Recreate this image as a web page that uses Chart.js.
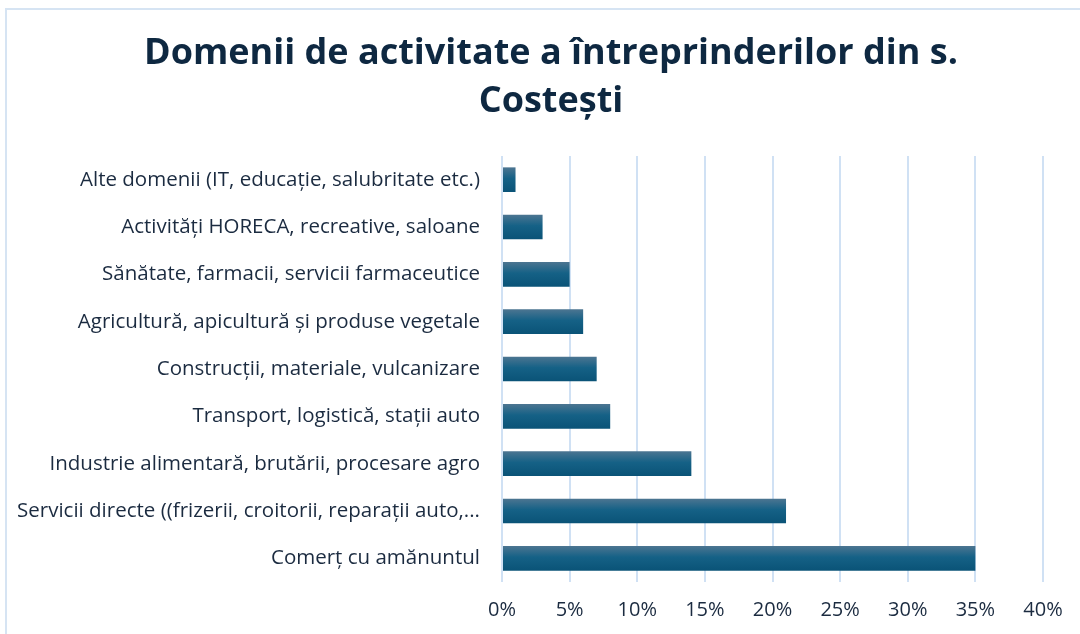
<!DOCTYPE html>
<html>
<head>
<meta charset="utf-8">
<script src="https://cdn.jsdelivr.net/npm/chart.js@4.4.0/dist/chart.umd.min.js"></script>
<style>
  html, body { margin: 0; padding: 0; background: #fff; overflow: hidden; }
  #wrap { position: relative; width: 1080px; height: 634px; }
  #frame { position: absolute; left: 5px; top: 8px; width: 1100px; height: 700px;
           border: 2px solid #d6e4f3; box-sizing: border-box; }
  canvas { position: absolute; left: 0; top: 0; }
</style>
</head>
<body>
<div id="wrap">
  <div id="frame"></div>
  <canvas id="barChart" width="1080" height="634"></canvas>
</div>
<script>
// Categories (top to bottom as shown)
const categories = [
    'Alte domenii (IT, educație, salubritate etc.)',
    'Activități HORECA, recreative, saloane',
    'Sănătate, farmacii, servicii farmaceutice',
    'Agricultură, apicultură și produse vegetale',
    'Construcții, materiale, vulcanizare',
    'Transport, logistică, stații auto',
    'Industrie alimentară, brutării, procesare agro',
    'Servicii directe ((frizerii, croitorii, reparații auto,...',
    'Comerț cu amănuntul'
];

// Share of enterprises, percent
const shares = [1, 3, 5, 6, 7, 8, 14, 21, 35];

// Axis ticks
const tickMax = 40;
const tickStep = 5;

const titleLines = ['Domenii de activitate a întreprinderilor din s.', 'Costești'];

const textColor = '#1b2b40';
const barRatio = 0.52;

// Vertical gradient for each bar
function barGradient(context) {
    const chart = context.chart;
    const yScale = chart.scales.y;
    if (!yScale || context.dataIndex === undefined) return '#0f5a7c';
    const center = yScale.getPixelForValue(context.dataIndex);
    const thick = (yScale.height / categories.length) * barRatio;
    if (!isFinite(center) || !isFinite(thick) || thick <= 0) return '#0f5a7c';
    const g = chart.ctx.createLinearGradient(0, center - thick / 2, 0, center + thick / 2);
    g.addColorStop(0, '#4c7591');
    g.addColorStop(0.45, '#156186');
    g.addColorStop(1, '#0a5377');
    return g;
}

// Shift the title box so it is centred like in the original
const titleShift = {
    id: 'titleShift',
    afterLayout: function(chart) {
        if (chart.titleBlock) chart.titleBlock.left = 59;
    }
};

document.addEventListener('DOMContentLoaded', function() {
    const ctx = document.getElementById('barChart').getContext('2d');

    new Chart(ctx, {
        type: 'bar',
        data: {
            labels: categories,
            datasets: [{
                data: shares,
                backgroundColor: barGradient,
                borderWidth: 0,
                categoryPercentage: 1,
                barPercentage: barRatio
            }]
        },
        options: {
            indexAxis: 'y',
            responsive: false,
            animation: false,
            layout: {
                padding: { left: 0, right: 37, top: 30, bottom: 4 }
            },
            plugins: {
                legend: { display: false },
                tooltip: { enabled: false },
                title: {
                    display: true,
                    text: titleLines,
                    color: '#0e2841',
                    font: { family: 'Open Sans', size: 36, weight: 'bold', lineHeight: 48 / 36 },
                    padding: { top: 0, bottom: 30 }
                }
            },
            scales: {
                x: {
                    min: 0,
                    max: tickMax,
                    afterFit: function(scale) { scale.height = 48; },
                    ticks: {
                        stepSize: tickStep,
                        color: textColor,
                        padding: 16,
                        font: { family: 'Open Sans', size: 20 },
                        callback: function(v) { return v + '%'; }
                    },
                    grid: { color: '#d0e1f4', lineWidth: 2, drawTicks: false },
                    border: { display: false }
                },
                y: {
                    afterFit: function(scale) { scale.width = 502; },
                    ticks: {
                        color: textColor,
                        padding: 14,
                        autoSkip: false,
                        font: { family: 'Open Sans', size: 20.5 }
                    },
                    grid: { display: false },
                    border: { display: false }
                }
            }
        },
        plugins: [titleShift]
    });
});
</script>
</body>
</html>
